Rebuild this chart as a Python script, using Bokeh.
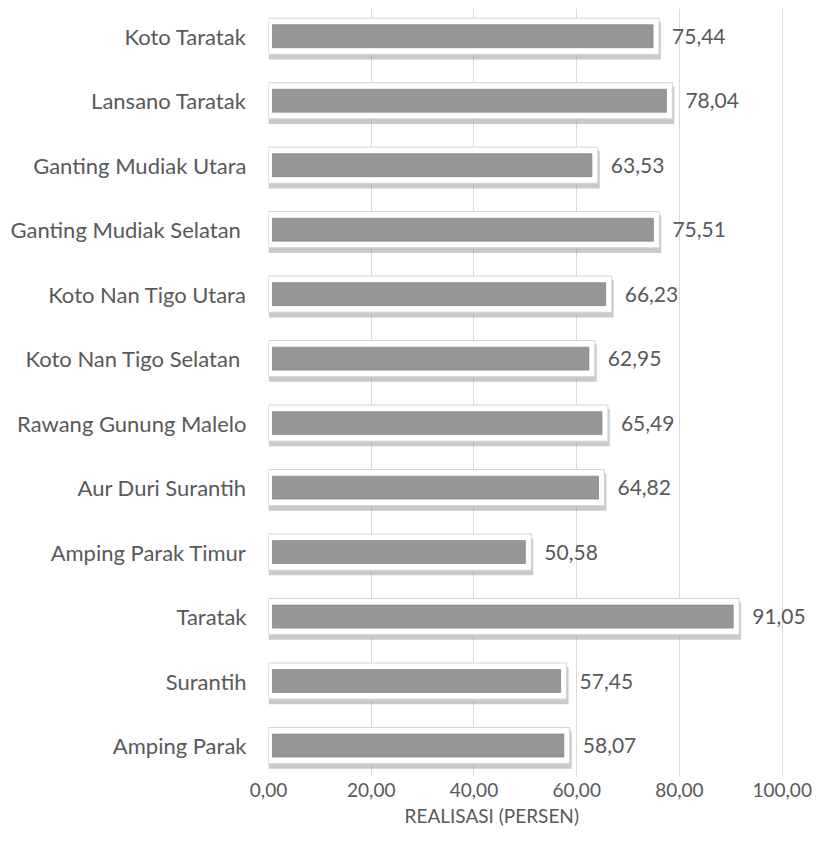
from bokeh.plotting import figure
from bokeh.models import Range1d, FixedTicker, ColumnDataSource, Title
from bokeh.core.properties import value
from bokeh.embed import file_html
from bokeh.resources import INLINE

# Data (top to bottom as shown)
categories = [
    "Koto Taratak", "Lansano Taratak", "Ganting Mudiak Utara", "Ganting Mudiak Selatan ",
    "Koto Nan Tigo Utara", "Koto Nan Tigo Selatan ", "Rawang Gunung Malelo",
    "Aur Duri Surantih", "Amping Parak Timur", "Taratak", "Surantih", "Amping Parak",
]
realisasi = [75.44, 78.04, 63.53, 75.51, 66.23, 62.95, 65.49, 64.82, 50.58, 91.05, 57.45, 58.07]
x_ticks = [0, 20, 40, 60, 80, 100]
x_tick_labels = ["0,00", "20,00", "40,00", "60,00", "80,00", "100,00"]
x_title = "REALISASI (PERSEN)"

n = len(categories)
ypos = [n - 1 - i for i in range(n)]
labels = [f"{v:.2f}".replace(".", ",") for v in realisasi]

FONT = "Lato"
TXT = "#595959"

src = ColumnDataSource(dict(
    y=ypos, v=realisasi, lab=labels,
    zero=[0.0] * n,
    sh_r=[v + 0.95 for v in realisasi],
    sh_t=[y + 0.22 for y in ypos], sh_b=[y - 0.36 for y in ypos],
    fr_r=[v + 0.58 for v in realisasi],
    fr_t=[y + 0.28 for y in ypos], fr_b=[y - 0.28 for y in ypos],
    in_l=[0.78] * n, in_r=[v - 0.58 for v in realisasi],
    in_t=[y + 0.178 for y in ypos], in_b=[y - 0.178 for y in ypos],
))

p = figure(width=812, height=852, output_backend="svg", toolbar_location=None,
           x_range=Range1d(0, 105.9), y_range=Range1d(-0.48, 11.43),
           min_border_left=268, min_border_right=0, min_border_top=8, min_border_bottom=76)
p.outline_line_color = None
p.background_fill_color = "white"

# bars: shadow, white bevel frame, grey inner face
p.quad(left="zero", right="sh_r", top="sh_t", bottom="sh_b", source=src,
       fill_color="#9f9f9f", fill_alpha=0.55, line_color=None)
p.quad(left="zero", right="fr_r", top="fr_t", bottom="fr_b", source=src,
       fill_color="white", line_color="#d4d4d4", line_width=1)
p.quad(left="in_l", right="in_r", top="in_t", bottom="in_b", source=src,
       fill_color="#969696", line_color="#808080", line_width=1, line_alpha=0.7)

p.text(x="v", y="y", text="lab", source=src, x_offset=16, text_align="left",
       text_baseline="middle", text_font=value(FONT), text_font_size="21px", text_color=TXT)

# grid
p.ygrid.grid_line_color = None
p.xgrid.ticker = FixedTicker(ticks=x_ticks)
p.xgrid.grid_line_color = "#d9d9d9"
p.xgrid.grid_line_width = 1

# x axis
p.xaxis.ticker = FixedTicker(ticks=x_ticks)
p.xaxis.major_label_overrides = {t: l for t, l in zip(x_ticks, x_tick_labels)}
p.xaxis.axis_line_color = None
p.xaxis.major_tick_line_color = None
p.xaxis.minor_tick_line_color = None
p.xaxis.major_tick_out = 0
p.xaxis.major_label_text_font = FONT
p.xaxis.major_label_text_font_size = "19px"
p.xaxis.major_label_text_color = TXT
p.xaxis.major_label_standoff = 6

# axis title placed under the axis, shifted to sit centred under 0-100
p.add_layout(Title(text=x_title, align="left", offset=136, standoff=5,
                   text_font=FONT, text_font_size="19px", text_font_style="normal",
                   text_color=TXT), "below")

# y axis
p.yaxis.ticker = FixedTicker(ticks=ypos)
p.yaxis.major_label_overrides = {y: c for y, c in zip(ypos, categories)}
p.yaxis.axis_line_color = None
p.yaxis.major_tick_line_color = None
p.yaxis.minor_tick_line_color = None
p.yaxis.major_tick_out = 0
p.yaxis.major_label_text_font = FONT
p.yaxis.major_label_text_font_size = "22px"
p.yaxis.major_label_text_color = TXT
p.yaxis.major_label_standoff = 22

open("out.html", "w").write(file_html(p, INLINE))
